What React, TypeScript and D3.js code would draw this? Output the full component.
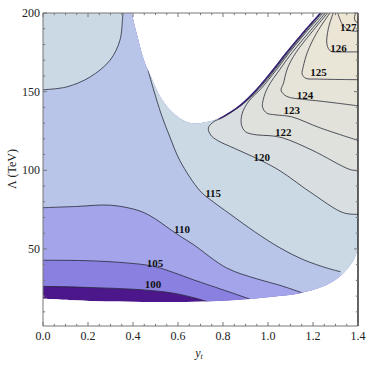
import React from "react";
import * as d3 from "d3";

type P = [number, number];

// axis ticks
const X_MAJOR = [0, 0.2, 0.4, 0.6, 0.8, 1.0, 1.2, 1.4];
const Y_MAJOR = [50, 100, 150, 200];

// domain boundaries (y_t, Λ)
const BOTTOM: P[] = [[0, 18.4], [0.135, 17.4], [0.283, 16.6], [0.5, 16.3], [0.727, 16.6], [0.92, 18.1], [1.05, 20], [1.142, 21.9], [1.246, 26.2], [1.32, 32.6], [1.372, 41.1], [1.392, 47], [1.4, 53]];
const HOLE: P[] = [[0.394, 200], [0.42, 185], [0.446, 171], [0.476, 160.6], [0.535, 143.6], [0.609, 133], [0.668, 129.7], [0.72, 130.5], [0.78, 133], [0.87, 141], [0.95, 152], [1.02, 164], [1.08, 175], [1.15, 187], [1.23, 200]];

// contour lines
const C100: P[] = [[0, 26.2], [0.2, 25.5], [0.431, 24.1], [0.579, 21.9], [0.68, 18.6], [0.727, 16.6]];
const C105: P[] = [[0, 42.8], [0.2, 42.5], [0.372, 41.1], [0.49, 39], [0.58, 35], [0.668, 30.4], [0.8, 24], [0.92, 18.1]];
const C110: P[] = [[0, 76.2], [0.15, 77], [0.3, 77.8], [0.431, 74.1], [0.5, 69], [0.55, 64], [0.6, 59], [0.668, 52.8], [0.816, 37.9], [0.95, 31], [1.05, 27], [1.15, 22.2]];
const C115L: P[] = [[0, 151.2], [0.105, 153], [0.209, 159.3], [0.298, 170], [0.342, 182.7], [0.354, 197.6], [0.356, 200]];
const C115R: P[] = [[0.467, 163.6], [0.49, 152], [0.527, 135], [0.564, 121.2], [0.609, 106], [0.698, 86.9], [0.756, 80], [0.831, 72.2], [0.94, 61], [1.053, 50.7], [1.16, 43], [1.261, 37.9], [1.322, 35.5]];
const C120: P[] = [[1.235, 200], [1.155, 187], [1.086, 175], [1.027, 164], [0.957, 152], [0.877, 141], [0.8, 133.6], [0.76, 131], [0.735, 127], [0.745, 122.5], [0.775, 119], [0.85, 114], [0.972, 106], [1.053, 99.7], [1.201, 84.8], [1.335, 73], [1.4, 72]];
const C122: P[] = [[1.245, 200], [1.165, 187], [1.096, 175], [1.038, 164], [0.97, 152], [0.915, 144], [0.885, 136], [0.882, 129], [0.9, 124.5], [0.95, 122.5], [1.009, 122], [1.068, 120.5], [1.2, 112.5], [1.364, 100.5], [1.4, 99.7]];
const C123: P[] = [[1.255, 200], [1.178, 187], [1.108, 175], [1.052, 164], [1.0, 153], [0.979, 145], [0.976, 140], [0.995, 136.3], [1.03, 135.3], [1.105, 134], [1.231, 127], [1.4, 119]];
const C124: P[] = [[1.265, 200], [1.19, 187], [1.125, 175], [1.087, 165], [1.068, 155], [1.058, 150.8], [1.083, 147], [1.164, 145], [1.231, 144], [1.4, 141]];
const C125: P[] = [[1.275, 200], [1.215, 187], [1.175, 175], [1.157, 166], [1.152, 161], [1.168, 158.5], [1.22, 158], [1.4, 157.6]];
const C126: P[] = [[1.29, 200], [1.268, 190], [1.262, 180], [1.278, 175.8], [1.32, 175.3], [1.4, 175.3]];
const C127: P[] = [[1.31, 200], [1.33, 193], [1.36, 189], [1.4, 188.5]];
const C128: P[] = [[1.39, 200], [1.384, 197], [1.39, 194.5], [1.4, 194]];
// lower levels hugging the hole edge
const STRIP_A: P[] = [[1.232, 200], [1.152, 187], [1.083, 175], [1.023, 164], [0.953, 152], [0.873, 141], [0.786, 133.4]];
const STRIP_B: P[] = [[1.238, 200], [1.159, 187], [1.09, 175], [1.031, 164], [0.961, 152], [0.881, 141.2], [0.795, 133.6]];

const LABELS: { t: string; p: P }[] = [
  { t: "100", p: [0.489, 27.5] },
  { t: "105", p: [0.498, 41.2] },
  { t: "110", p: [0.618, 62.3] },
  { t: "115", p: [0.756, 85.6] },
  { t: "120", p: [0.972, 108.6] },
  { t: "122", p: [1.068, 124.2] },
  { t: "123", p: [1.105, 138] },
  { t: "124", p: [1.164, 147.6] },
  { t: "125", p: [1.224, 162.5] },
  { t: "126", p: [1.313, 177.8] },
  { t: "127", p: [1.357, 190.9] },
];

const COLORS = {
  c0: "#4b178b",
  c100: "#8a80e0",
  c105: "#a3a4e9",
  c110: "#b8c5e9",
  c115: "#cbd9e5",
  c120: "#d9dfe0",
  c122: "#dee1dc",
  c123: "#e2e2da",
  c124: "#e6e4d8",
  c125: "#e9e5d7",
  c126: "#ebe5d5",
  c127: "#ede6d3",
};

const W = 374, H = 365;
const x = d3.scaleLinear().domain([0, 1.4]).range([43, 358]);
const y = d3.scaleLinear().domain([1, 200]).range([326, 13]);

const lineGen = d3.line<P>().x((d) => x(d[0])).y((d) => y(d[1])).curve(d3.curveCatmullRom.alpha(0.5));
const lin = (pts: P[]) => pts.map((p) => `L${x(p[0])},${y(p[1])}`).join("");
const poly = (pts: P[], ext: P[]) => (lineGen(pts) as string) + lin(ext) + "Z";

export default function App() {
  const domainPath =
    (lineGen(BOTTOM) as string) +
    lin([[1.4, 200]]) +
    (lineGen([...HOLE].reverse() as P[]) as string).replace(/^M/, "L") +
    lin([[0, 200]]) +
    "Z";

  const fills: { d: string; c: string }[] = [
    { d: poly(C100, [[0.75, -10], [1.6, -10], [1.6, 220], [-0.1, 220], [-0.1, 26.2]]), c: COLORS.c100 },
    { d: poly(C105, [[0.95, -10], [1.6, -10], [1.6, 220], [-0.1, 220], [-0.1, 42.8]]), c: COLORS.c105 },
    { d: poly(C110, [[1.17, -10], [1.6, -10], [1.6, 220], [-0.1, 220], [-0.1, 76.2]]), c: COLORS.c110 },
    { d: poly(C115L, [[0.356, 220], [-0.1, 220], [-0.1, 151.2]]), c: COLORS.c115 },
    { d: poly(C115R, [[1.36, 15], [1.6, -10], [1.6, 220], [0.52, 220], [0.52, 175]]), c: COLORS.c115 },
    { d: poly(C120, [[1.6, 72], [1.6, 220], [1.235, 220]]), c: COLORS.c120 },
    { d: poly(C122, [[1.6, 99.7], [1.6, 220], [1.245, 220]]), c: COLORS.c122 },
    { d: poly(C123, [[1.6, 119], [1.6, 220], [1.255, 220]]), c: COLORS.c123 },
    { d: poly(C124, [[1.6, 141], [1.6, 220], [1.265, 220]]), c: COLORS.c124 },
    { d: poly(C125, [[1.6, 157.6], [1.6, 220], [1.275, 220]]), c: COLORS.c125 },
    { d: poly(C126, [[1.6, 175.3], [1.6, 220], [1.29, 220]]), c: COLORS.c126 },
    { d: poly(C127, [[1.6, 188.5], [1.6, 220], [1.31, 220]]), c: COLORS.c127 },
  ];

  const lines = [C100, C105, C110, C115L, C115R, C120, C122, C123, C124, C125, C126, C127, C128, STRIP_A, STRIP_B];
  const holeRight = HOLE.slice(8);

  const xMinor = d3.range(0, 1.4001, 0.05);
  const yMinor = d3.range(10, 200.001, 10);
  const frameColor = "#777";
  const serif = "'Liberation Serif', 'DejaVu Serif', serif";

  return (
    <svg width={W} height={H} style={{ position: "absolute", left: 0, top: 0, background: "#fff" }}>
      <defs>
        <clipPath id="dom">
          <path d={domainPath} />
        </clipPath>
      </defs>
      <g clipPath="url(#dom)">
        <path d={domainPath} fill={COLORS.c0} />
        {fills.map((f, i) => (
          <path key={i} d={f.d} fill={f.c} />
        ))}
        {lines.map((l, i) => (
          <path key={i} d={lineGen(l) as string} fill="none" stroke="#2a2a3a" strokeWidth={0.8} />
        ))}
        <path d={lineGen(holeRight) as string} fill="none" stroke="#3a1a78" strokeWidth={2.2} />
      </g>
      {/* frame */}
      <line x1={43} x2={358} y1={13} y2={13} stroke={frameColor} strokeWidth={1} />
      <line x1={43} x2={358} y1={326} y2={326} stroke={frameColor} strokeWidth={1} />
      <line x1={43} x2={43} y1={13} y2={326} stroke={frameColor} strokeWidth={1} />
      <line x1={358} x2={358} y1={13} y2={326} stroke="#111" strokeWidth={1.3} />
      {xMinor.map((v, i) => {
        const major = Math.abs(v * 5 - Math.round(v * 5)) < 1e-6;
        const len = major ? 4 : 2.2;
        return (
          <g key={i}>
            <line x1={x(v)} x2={x(v)} y1={326} y2={326 - len} stroke={frameColor} />
            <line x1={x(v)} x2={x(v)} y1={13} y2={13 + len} stroke={frameColor} />
          </g>
        );
      })}
      {yMinor.map((v, i) => {
        const major = v % 50 === 0;
        const len = major ? 4 : 2.2;
        return (
          <g key={i}>
            <line x1={43} x2={43 + len} y1={y(v)} y2={y(v)} stroke={frameColor} />
            <line x1={358} x2={358 - len} y1={y(v)} y2={y(v)} stroke={frameColor} />
          </g>
        );
      })}
      {X_MAJOR.map((v) => (
        <text key={v} x={x(v)} y={340} textAnchor="middle" fontFamily={serif} fontSize={12} fill="#222">
          {v.toFixed(1)}
        </text>
      ))}
      {Y_MAJOR.map((v) => (
        <text key={v} x={40} y={y(v)} dy="0.35em" textAnchor="end" fontFamily={serif} fontSize={12} fill="#222">
          {v}
        </text>
      ))}
      <text transform={`translate(16,169) rotate(-90)`} textAnchor="middle" fontFamily={serif} fontSize={12} fill="#222">
        Λ (TeV)
      </text>
      <text x={199} y={357} textAnchor="middle" fontFamily={serif} fontSize={12} fill="#222">
        <tspan fontStyle="italic">y</tspan>
        <tspan fontSize={8} dy={2} fontStyle="italic">t</tspan>
      </text>
      {LABELS.map((l) => (
        <text key={l.t} x={x(l.p[0])} y={y(l.p[1])} dy="0.35em" textAnchor="middle" fontFamily={serif} fontWeight="bold" fontSize={11} fill="#111">
          {l.t}
        </text>
      ))}
    </svg>
  );
}
